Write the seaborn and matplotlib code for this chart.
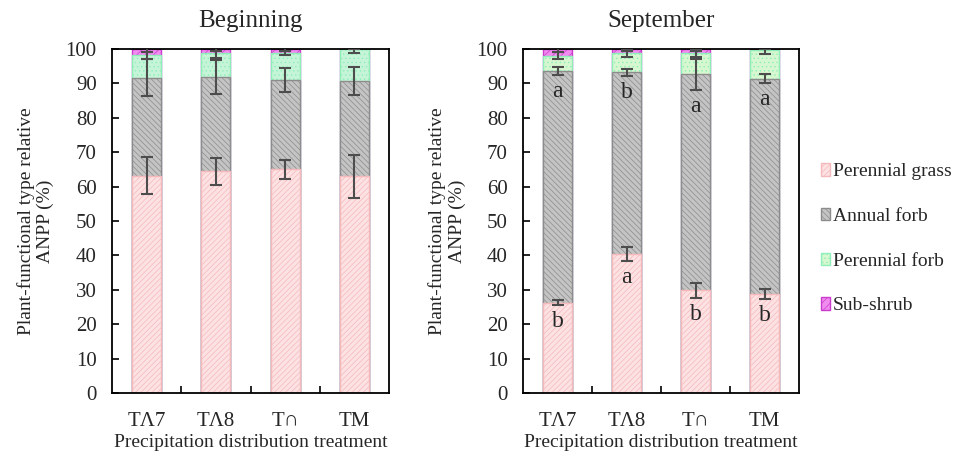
import matplotlib
matplotlib.use("Agg")
import matplotlib.pyplot as plt
import pandas as pd
import seaborn as sns
from matplotlib.patches import Patch

# Data
treatments = ["TΛ7", "TΛ8", "T∩", "TM"]
groups = ["Perennial grass", "Annual forb", "Perennial forb", "Sub-shrub"]

beg_grass = [63.2, 64.5, 65.0, 63.0]
beg_annual = [28.5, 27.3, 26.0, 27.7]
beg_pforb = [6.5, 7.1, 7.8, 9.3]
beg_shrub = [1.8, 1.1, 1.2, 0.0]
beg_grass_err = [5.3, 3.9, 2.8, 6.2]
beg_annual_err = [5.5, 5.0, 3.5, 4.1]
beg_pforb_err = [1.0, 1.5, 0.6, 1.1]
beg_shrub_err = [0.8, 0.5, 0.5, 0.0]

sep_grass = [26.3, 40.3, 29.9, 28.8]
sep_annual = [67.3, 52.9, 62.7, 62.6]
sep_pforb = [4.5, 5.5, 6.2, 8.2]
sep_shrub = [1.9, 1.3, 1.2, 0.4]
sep_grass_err = [0.75, 2.0, 2.2, 1.5]
sep_annual_err = [1.2, 1.0, 4.6, 1.4]
sep_pforb_err = [1.1, 1.0, 1.0, 1.0]
sep_shrub_err = [0.8, 0.6, 0.6, 0.0]

sep_annual_letters = ["a", "b", "a", "a"]
sep_grass_letters = ["b", "a", "b", "b"]

# Styles
faces = ["#fde2e3", "#c4c4c4", "#c6f4d8", "#f08cf0"]
edges = ["#f5b9bc", "#8c8c8c", "#8ef0b8", "#cc3ccc"]
hatches = ["//////", "\\\\\\\\\\\\", "....", "////"]

sns.set_style("ticks")
plt.rcParams["font.family"] = ["Liberation Serif", "DejaVu Serif"]
plt.rcParams["hatch.linewidth"] = 0.5


def draw_panel(ax, title, layers, errs, face_list):
    df = pd.DataFrame({"treatment": treatments})
    cum = [0.0] * len(treatments)
    tops = []
    for vals in layers:
        cum = [c + v for c, v in zip(cum, vals)]
        tops.append(cum)
    # draw from the top layer down so lower layers cover upper ones
    for i in reversed(range(len(layers))):
        df["top"] = tops[i]
        sns.barplot(
            data=df, x="treatment", y="top", order=treatments, ax=ax,
            color=face_list[i], edgecolor=edges[i], hatch=hatches[i],
            linewidth=1.0, width=0.42, errorbar=None, saturation=1,
        )
    for i in range(len(layers)):
        ax.errorbar(
            range(len(treatments)), tops[i], yerr=errs[i], fmt="none",
            ecolor="#4d4d4d", elinewidth=1.5, capsize=4.5, capthick=1.5,
            zorder=5,
        )
    ax.set_ylim(0, 100)
    ax.set_xlim(-0.5, 3.5)
    ax.set_yticks(range(0, 101, 10))
    ax.set_xticks([0.5, 1.5, 2.5], minor=True)
    ax.tick_params(axis="x", which="major", length=0, pad=14, labelsize=15)
    ax.tick_params(axis="x", which="minor", direction="in", length=5,
                   width=1.2, color="black")
    ax.tick_params(axis="y", direction="in", length=5, width=1.2, pad=11,
                   labelsize=15, color="black")
    for s in ax.spines.values():
        s.set_visible(True)
        s.set_linewidth(1.3)
        s.set_color("black")
    ax.set_title(title, fontsize=18, pad=16)
    ax.set_xlabel("Precipitation distribution treatment", fontsize=14,
                  labelpad=2)
    ax.set_ylabel("Plant-functional type relative\nANPP (%)", fontsize=14,
                  labelpad=8, linespacing=1.2)
    return tops


fig = plt.figure(figsize=(9.62, 4.61), dpi=100)
ax1 = fig.add_axes([0.1164, 0.1475, 0.2880, 0.7462])
ax2 = fig.add_axes([0.5437, 0.1475, 0.2869, 0.7462])

draw_panel(
    ax1, "Beginning",
    [beg_grass, beg_annual, beg_pforb, beg_shrub],
    [beg_grass_err, beg_annual_err, beg_pforb_err, beg_shrub_err],
    faces,
)
sep_faces = [faces[0], faces[1], "#d6f7d0", faces[3]]
tops = draw_panel(
    ax2, "September",
    [sep_grass, sep_annual, sep_pforb, sep_shrub],
    [sep_grass_err, sep_annual_err, sep_pforb_err, sep_shrub_err],
    sep_faces,
)

# significance letters
for i in range(len(treatments)):
    ax2.text(i, tops[1][i] - sep_annual_err[i] - 4.8, sep_annual_letters[i],
             ha="center", va="center", fontsize=17, zorder=6)
    ax2.text(i, tops[0][i] - sep_grass_err[i] - 4.8, sep_grass_letters[i],
             ha="center", va="center", fontsize=17, zorder=6)

handles = [
    Patch(facecolor=sep_faces[i], edgecolor=edges[i], hatch=hatches[i],
          label=groups[i])
    for i in range(len(groups))
]
fig.legend(
    handles=handles, loc="center left", bbox_to_anchor=(0.845, 0.482),
    frameon=False, fontsize=14, handlelength=0.5, handleheight=0.6,
    handletextpad=0.12, labelspacing=1.42, borderaxespad=0,
)

fig.savefig("out.png", dpi=100)
